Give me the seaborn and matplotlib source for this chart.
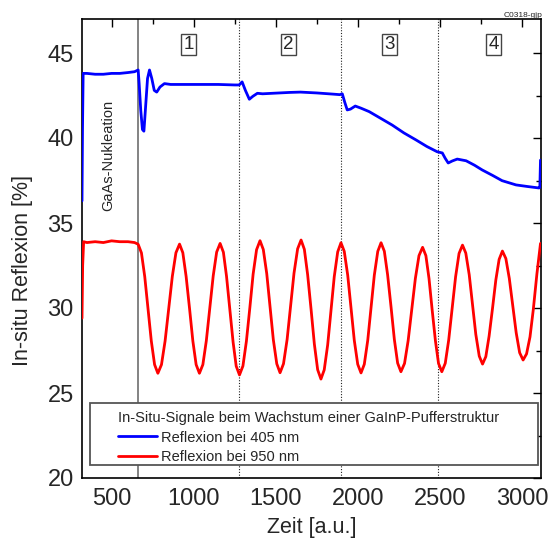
import numpy as np
import pandas as pd
import matplotlib
matplotlib.use("Agg")
import matplotlib.pyplot as plt
from matplotlib.ticker import MultipleLocator, AutoMinorLocator
from matplotlib.patches import Rectangle
from matplotlib.lines import Line2D
import seaborn as sns

# ---------------- data ----------------
blue_x = [320, 323, 327, 350, 400, 450, 500, 550, 600, 640, 662, 668, 678, 688, 697,
          707, 719, 731, 745, 760, 775, 795, 822, 860, 950, 1050, 1150, 1250, 1277,
          1295, 1315, 1339, 1360, 1388, 1420, 1480, 1583, 1650, 1750, 1850, 1890,
          1905, 1920, 1935, 1955, 1984, 2020, 2069, 2140, 2209, 2280, 2355, 2420,
          2483, 2514, 2532, 2550, 2575, 2605, 2659, 2710, 2757, 2820, 2878, 2963,
          3030, 3103, 3108, 3112]
blue_y = [36.3, 40.5, 43.8, 43.8, 43.75, 43.75, 43.8, 43.8, 43.85, 43.9, 44.0, 43.2,
          41.6, 40.5, 40.4, 41.8, 43.5, 44.0, 43.5, 42.8, 42.7, 43.0, 43.2, 43.15,
          43.15, 43.15, 43.15, 43.12, 43.12, 43.3, 42.8, 42.28, 42.45, 42.63, 42.6,
          42.63, 42.68, 42.7, 42.65, 42.58, 42.55, 42.6, 42.1, 41.65, 41.7, 41.88,
          41.75, 41.55, 41.15, 40.76, 40.3, 39.88, 39.5, 39.19, 39.12, 38.8, 38.53,
          38.65, 38.76, 38.66, 38.4, 38.12, 37.8, 37.49, 37.24, 37.15, 37.06, 37.1,
          38.7]

red_x = [320, 324, 330, 350, 400, 450, 500, 550, 600, 640, 662,
         682, 702, 722, 742, 762, 782,
         804, 826, 848, 870, 892, 914,
         934, 954, 975, 995, 1015, 1035,
         1056, 1077, 1098, 1119, 1140, 1161,
         1181, 1200, 1220, 1240, 1259, 1279,
         1300, 1321, 1342, 1362, 1383, 1404,
         1424, 1445, 1465, 1485, 1506, 1526,
         1547, 1569, 1590, 1611, 1633, 1654,
         1674, 1694, 1715, 1735, 1755, 1775,
         1795, 1816, 1836, 1856, 1877, 1897,
         1917, 1938, 1958, 1978, 1999, 2019,
         2039, 2060, 2080, 2100, 2121, 2141,
         2161, 2181, 2202, 2222, 2242, 2262,
         2284, 2306, 2328, 2350, 2372, 2394,
         2414, 2433, 2452, 2472, 2491, 2511,
         2532, 2553, 2574, 2595, 2616, 2637,
         2657, 2678, 2698, 2718, 2739, 2759,
         2779, 2799, 2820, 2840, 2860, 2880,
         2901, 2922, 2943, 2964, 2985, 3006,
         3027, 3048, 3068, 3090, 3112]
red_y = [29.4, 32.5, 33.9, 33.85, 33.9, 33.85, 33.95, 33.9, 33.9, 33.85, 33.75,
         33.24, 31.85, 29.96, 28.06, 26.67, 26.16,
         26.67, 28.06, 29.96, 31.86, 33.25, 33.76,
         33.25, 31.86, 29.96, 28.06, 26.67, 26.16,
         26.67, 28.07, 29.98, 31.89, 33.29, 33.8,
         33.28, 31.87, 29.93, 28.0, 26.58, 26.06,
         26.59, 28.04, 30.01, 31.99, 33.43, 33.96,
         33.44, 32.02, 30.08, 28.14, 26.72, 26.19,
         26.72, 28.15, 30.1, 32.05, 33.48, 34.0,
         33.45, 31.96, 29.91, 27.87, 26.37, 25.82,
         26.36, 27.83, 29.83, 31.84, 33.3, 33.84,
         33.33, 31.93, 30.01, 28.1, 26.69, 26.18,
         26.69, 28.1, 30.01, 31.93, 33.33, 33.84,
         33.34, 31.95, 30.05, 28.15, 26.76, 26.25,
         26.74, 28.08, 29.91, 31.74, 33.08, 33.57,
         33.08, 31.74, 29.91, 28.08, 26.74, 26.25,
         26.75, 28.12, 29.98, 31.84, 33.21, 33.7,
         33.23, 31.95, 30.2, 28.45, 27.17, 26.7,
         27.14, 28.35, 30.0, 31.65, 32.86, 33.35,
         32.91, 31.74, 30.14, 28.54, 27.37, 26.94,
         27.3, 28.3, 29.9, 32.0, 33.8]

legend_title = "In-Situ-Signale beim Wachstum einer GaInP-Pufferstruktur"
series_labels = ["Reflexion bei 405 nm", "Reflexion bei 950 nm"]
region_labels = ["1", "2", "3", "4"]
region_label_x = [971, 1578, 2193, 2826]
boundary_solid = [662]
boundary_dotted = [1277, 1900, 2489]

# ---------------- style ----------------
sns.set_style("white")
plt.rcParams["font.family"] = ["Liberation Sans", "DejaVu Sans"]

fig = plt.figure(figsize=(5.51, 5.40), dpi=100)
ax = fig.add_axes([82 / 551, 1 - 478 / 540, 459 / 551, 459 / 540])

df_b = pd.DataFrame({"x": blue_x, "y": blue_y})
df_r = pd.DataFrame({"x": red_x, "y": red_y})

for xv in boundary_solid:
    ax.axvline(xv, color="#6e6e6e", lw=1.2, zorder=1)
for xv in boundary_dotted:
    ax.axvline(xv, color="#222222", lw=0.8, ls=(0, (1, 1.5)), zorder=1)

sns.lineplot(data=df_b, x="x", y="y", ax=ax, color="#0000ff", lw=2.0,
             estimator=None, sort=False, zorder=3)
sns.lineplot(data=df_r, x="x", y="y", ax=ax, color="#ff0000", lw=2.0,
             estimator=None, sort=False, zorder=3)

ax.set_xlim(320, 3115)
ax.set_ylim(20, 47)
ax.xaxis.set_major_locator(MultipleLocator(500))
ax.xaxis.set_minor_locator(AutoMinorLocator(2))
ax.yaxis.set_major_locator(MultipleLocator(5))
ax.yaxis.set_minor_locator(AutoMinorLocator(2))
ax.tick_params(which="both", direction="in", top=True, right=True, width=1.0,
               color="black")
ax.tick_params(which="major", length=6, labelsize=17)
ax.tick_params(which="minor", length=3.5)
ax.tick_params(axis="x", which="major", pad=7.5)
ax.tick_params(axis="y", which="major", pad=6)
for s in ax.spines.values():
    s.set_linewidth(1.2)
    s.set_color("black")

ax.set_xlabel("Zeit [a.u.]", fontsize=15.5)
ax.set_ylabel("In-situ Reflexion [%]", fontsize=15.5)
ax.xaxis.set_label_coords(0.5, -0.085)
ax.yaxis.set_label_coords(-0.107, 0.453)

# region labels
for lab, xv in zip(region_labels, region_label_x):
    ax.text(xv, 45.5, lab, fontsize=13.5, ha="center", va="center", zorder=5,
            bbox=dict(boxstyle="square,pad=0.12", fc="white", ec="#444444", lw=1.0))

ax.text(477, 39.0, "GaAs-Nukleation", rotation=90, fontsize=10.5,
        ha="center", va="center", zorder=5)

fig.text(543 / 551, 1 - 17 / 540, "C0318-gjp", fontsize=6, ha="right",
         va="baseline")

# legend frame + legend
rx0, rx1 = (90 - 82) / 459, (538 - 82) / 459
ry0, ry1 = (478 - 465) / 459, (478 - 403) / 459
ax.add_patch(Rectangle((rx0, ry0), rx1 - rx0, ry1 - ry0, transform=ax.transAxes,
                       fc="white", ec="#555555", lw=1.3, zorder=6))
handles = [Line2D([], [], color="#0000ff", lw=2.0),
           Line2D([], [], color="#ff0000", lw=2.0)]
leg = ax.legend(handles, series_labels, title=legend_title, loc="upper left",
                bbox_to_anchor=((118 - 82) / 459, (478 - 411) / 459),
                frameon=False, alignment="left", fontsize=10.5,
                title_fontsize=10.5, handlelength=2.7, handletextpad=0.25,
                labelspacing=0.38, borderpad=0, borderaxespad=0)
leg.set_zorder(7)

fig.savefig("out.png", dpi=100)
